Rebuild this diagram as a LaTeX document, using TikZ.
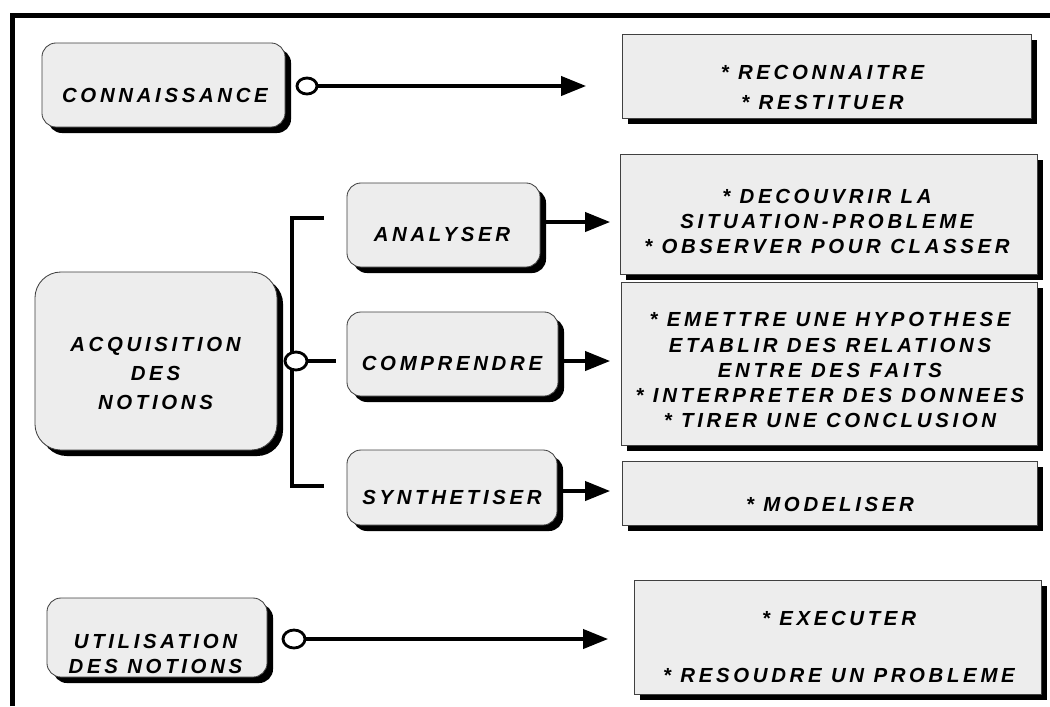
\documentclass[tikz,border=0pt]{standalone}
\usepackage{fontspec}
\usetikzlibrary{arrows.meta}
\usetikzlibrary{shapes.geometric}
\usetikzlibrary{shadows}
\newfontfamily\diafont{Liberation Sans}[LetterSpace=18]

\tikzset{
  boxshadow/.style={drop shadow={fill=black, opacity=1, shadow xshift=0.15cm, shadow yshift=-0.15cm}},
  rbox/.style={draw=black!75, line width=0.6pt, fill=black!7, rounded corners=0.35cm, inner sep=0pt, boxshadow},
  gbox/.style={draw=black!75, line width=0.6pt, fill=black!7, inner sep=0pt, boxshadow},
  txt/.style={font=\diafont\bfseries\itshape\fontsize{14.5}{17.8}\selectfont, align=center, inner sep=0pt},
  ring/.style={draw, ellipse, line width=2pt, fill=white, minimum width=0.5cm, minimum height=0.4cm, inner sep=0pt},
  wire/.style={line width=2.2pt},
  arr/.style={wire, -{Triangle[length=0.62cm, width=0.48cm]}}
}

\begin{document}
\begin{tikzpicture}[x=0.025cm, y=-0.025cm]
\useasboundingbox (0,0) rectangle (1050,706);
\draw[line width=3.6pt] (12.5,706) -- (12.5,15.5) -- (1050,15.5);

% left column
\node[rbox, minimum width=6.075cm, minimum height=2.1cm] (con) at (163.5,85) {};
\node[txt] (con-t) at (165,95) {CONNAISSANCE};
\node[rbox, rounded corners=0.65cm, minimum width=6.05cm, minimum height=4.45cm] (acq) at (156,361) {};
\node[txt] (acq-t) at (155.5,373.5) {ACQUISITION\\[2.5pt]DES\\[2.5pt]NOTIONS};
\node[rbox, minimum width=5.5cm, minimum height=1.975cm] (uti) at (157,637.5) {};
\node[txt] (uti-t) at (155.5,653.5) {UTILISATION\\DES NOTIONS};

% middle column
\node[rbox, minimum width=4.825cm, minimum height=2.1cm] (ana) at (443.5,225) {};
\node[txt] (ana-t) at (442,234.5) {ANALYSER};
\node[rbox, minimum width=5.275cm, minimum height=2.1cm] (com) at (452.5,354) {};
\node[txt] (com-t) at (452,363) {COMPRENDRE};
\node[rbox, minimum width=5.25cm, minimum height=1.875cm] (syn) at (452,487.5) {};
\node[txt] (syn-t) at (452,497.5) {SYNTHETISER};

% right column
\node[gbox, minimum width=10.225cm, minimum height=2.1cm] (r1) at (826.5,76) {};
\node[txt] (r1-t) at (822.5,87.5) {* RECONNAITRE\\[3.5pt]{}* RESTITUER};
\node[gbox, minimum width=10.425cm, minimum height=3cm] (r2) at (828.5,214) {};
\node[txt] (r2-t) at (827,221.5) {* DECOUVRIR LA\\SITUATION-PROBLEME\\{}* OBSERVER POUR CLASSER};
\node[gbox, minimum width=10.4cm, minimum height=4.075cm] (r3) at (829,363.5) {};
\node[txt] (r3-t) at (830,370) {* EMETTRE UNE HYPOTHESE\\ETABLIR DES RELATIONS\\ENTRE DES FAITS\\{}* INTERPRETER DES DONNEES\\{}* TIRER UNE CONCLUSION};
\node[gbox, minimum width=10.375cm, minimum height=1.6cm] (r4) at (829.5,493) {};
\node[txt] (r4-t) at (830,504) {* MODELISER};
\node[gbox, minimum width=10.175cm, minimum height=2.85cm] (r5) at (837.5,637) {};
\node[txt] (r5-t) at (839,646.5) {* EXECUTER\\[22.7pt]{}* RESOUDRE UN PROBLEME};

% arrow tips
\coordinate (t1) at (586,86);
\coordinate (t2) at (610,222);
\coordinate (t3) at (610,361);
\coordinate (t4) at (610,491);
\coordinate (t5) at (608,639);

% bracket
\coordinate (bt) at (324,218);
\coordinate (bb) at (324,486);
\coordinate (s2) at (336,361);
\draw[wire] (bt) -- ++(-32,0) |- (bb);

\node[ring] (c1) at (307,86) {};
\node[ring, minimum width=0.55cm, minimum height=0.45cm] (c2) at (296,361) {};
\node[ring, minimum width=0.55cm, minimum height=0.45cm] (c3) at (294,639) {};

\draw[arr] (c1) -- (t1);
\draw[wire] (c2) -- (s2);
\draw[arr] (c3) -- (t5);
\draw[arr, shorten <=0.15cm] (ana.east |- t2) -- (t2);
\draw[arr, shorten <=0.15cm] (com.east |- t3) -- (t3);
\draw[arr, shorten <=0.15cm] (syn.east |- t4) -- (t4);
\end{tikzpicture}
\end{document}
